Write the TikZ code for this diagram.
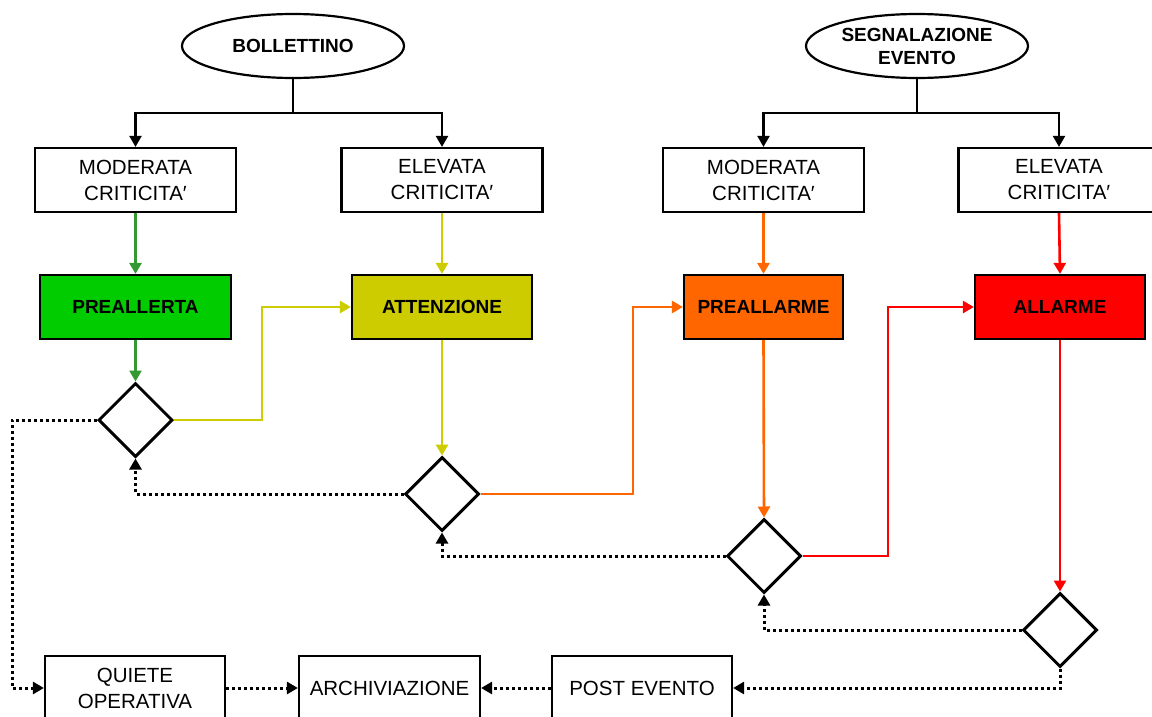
\documentclass[tikz,border=0pt]{standalone}
\usepackage{fontspec}
\setmainfont{Liberation Sans}
\usetikzlibrary{shapes.geometric,arrows.meta}
\definecolor{gfill}{HTML}{00CC00}
\definecolor{gline}{HTML}{339933}
\definecolor{yel}{HTML}{CCCC00}
\definecolor{ora}{HTML}{FF6600}
\definecolor{rosso}{HTML}{FF0000}
\tikzset{
  reg/.style={font=\fontsize{20.5}{26}\selectfont},
  bld/.style={font=\fontsize{19}{23}\selectfont\bfseries},
  oval/.style={ellipse,draw,line width=2.2pt,minimum width=222,minimum height=64,inner sep=0pt,align=center,bld},
  crit/.style={rectangle,draw,line width=2.2pt,minimum width=201,minimum height=64,inner sep=0pt,align=center,reg},
  state/.style={rectangle,draw,line width=2.2pt,minimum height=64,inner sep=0pt,align=center,bld},
  dec/.style={diamond,draw,line width=3pt,shape aspect=1,minimum width=74,minimum height=74,inner sep=0pt},
  endbox/.style={rectangle,draw,line width=2.2pt,minimum width=180,minimum height=64,inner sep=0pt,align=center,reg},
  tip/.style={-{Triangle[length=11,width=12]}},
  conn/.style={line width=2.6pt,tip},
  dots/.style={line width=3pt,dash pattern=on 3pt off 3pt,tip},
}
\begin{document}
\begin{tikzpicture}[x=1pt,y=-1pt]
\clip (0,0) rectangle (1152,717);
\fill[white] (0,0) rectangle (1152,717);
% top ovals
\node[oval] (bol) at (293,46) {BOLLETTINO};
\node[oval] (seg) at (917,46) {SEGNALAZIONE\\EVENTO};
% criticality boxes
\node[crit] (m1) at (135.5,180) {MODERATA\\CRITICITA′};
\node[crit] (e1) at (442,180) {ELEVATA\\CRITICITA′};
\node[crit] (m2) at (763.5,180) {MODERATA\\CRITICITA′};
\node[crit] (e2) at (1059,180) {ELEVATA\\CRITICITA′};
% state boxes
\node[state,fill=gfill,minimum width=191] (pra) at (135.5,307) {PREALLERTA};
\node[state,fill=yel,minimum width=180] (att) at (442,307) {ATTENZIONE};
\node[state,fill=ora,minimum width=159] (prm) at (763.5,307) {PREALLARME};
\node[state,fill=rosso,minimum width=170] (all) at (1060,307) {ALLARME};
% decisions
\node[dec] (d1) at (135.5,420) {};
\node[dec] (d2) at (442,494) {};
\node[dec] (d3) at (764,556) {};
\node[dec] (d4) at (1060,630) {};
% bottom boxes
\node[endbox] (qui) at (135,688) {QUIETE\\OPERATIVA};
\node[endbox,minimum width=181] (arc) at (389.5,688) {ARCHIVIAZIONE};
\node[endbox] (pos) at (642,688) {POST EVENTO};
% junction coordinates
\coordinate (j1) at (293,113);
\coordinate (j2) at (917,113);
\coordinate (y1) at (262,420);
\coordinate (o1) at (633,494);
\coordinate (r1) at (888,556);
\coordinate (q1) at (12,420);
% black tree connectors
\draw[line width=2.2pt] (bol.south) -- (j1);
\draw[conn,line width=2.2pt] (j1) -| (m1.north);
\draw[conn,line width=2.2pt] (j1) -| (e1.north);
\draw[line width=2.2pt] (seg.south) -- (j2);
\draw[conn,line width=2.2pt] (j2) -| (m2.north);
\draw[conn,line width=2.2pt] (j2) -| (e2.north);
% coloured connectors
\draw[conn,gline] (m1.south) -- (pra.north);
\draw[conn,gline] (pra.south) -- (d1.north);
\draw[conn,yel] (e1.south) -- (att.north);
\draw[conn,yel] (d1.east) -- (y1) |- (att.west);
\draw[conn,yel] (att.south) -- (d2.north);
\draw[conn,ora] (m2.south) -- (prm.north);
\draw[conn,ora] (d2.east) -- (o1) |- (prm.west);
\draw[conn,ora] (prm.south) -- (d3.north);
\draw[conn,rosso] (e2.south) -- (all.north);
\draw[conn,rosso] (d3.east) -- (r1) |- (all.west);
\draw[conn,rosso] (all.south) -- (d4.north);
% dotted connectors
\draw[dots] (d2.west) -| (d1.south);
\draw[dots] (d3.west) -| (d2.south);
\draw[dots] (d4.west) -| (d3.south);
\draw[dots] (d1.west) -- (q1) |- (qui.west);
\draw[dots] (d4.south) |- (pos.east);
\draw[dots] (qui.east) -- (arc.west);
\draw[dots] (pos.west) -- (arc.east);
\end{tikzpicture}
\end{document}
